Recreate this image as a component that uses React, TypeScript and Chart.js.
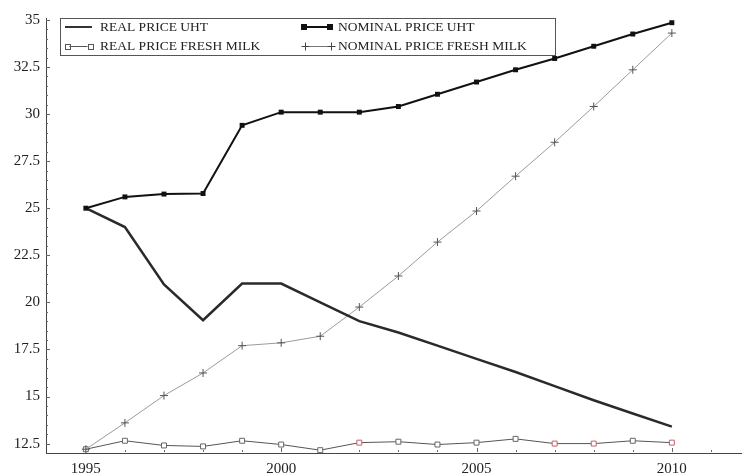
import { useEffect, useRef } from "react";
import { Chart, registerables } from "chart.js";

Chart.register(...registerables);

// Milk prices, 1995-2010
const years = [1995, 1996, 1997, 1998, 1999, 2000, 2001, 2002, 2003, 2004, 2005, 2006, 2007, 2008, 2009, 2010];
const realPriceUht = [25.0, 24.0, 20.95, 19.05, 21.0, 21.0, 20.0, 19.0, 18.4, 17.7, 17.0, 16.3, 15.55, 14.8, 14.1, 13.4];
const nominalPriceUht = [25.0, 25.6, 25.75, 25.78, 29.4, 30.1, 30.1, 30.1, 30.4, 31.05, 31.7, 32.35, 32.95, 33.6, 34.25, 34.85];
const realPriceFreshMilk = [12.2, 12.65, 12.4, 12.35, 12.65, 12.45, 12.15, 12.55, 12.6, 12.45, 12.55, 12.75, 12.5, 12.5, 12.65, 12.55];
const nominalPriceFreshMilk = [12.2, 13.6, 15.05, 16.25, 17.7, 17.85, 18.2, 19.75, 21.4, 23.2, 24.85, 26.7, 28.5, 30.4, 32.35, 34.3];

const seriesNames = ["REAL PRICE UHT", "NOMINAL PRICE UHT", "REAL PRICE FRESH MILK", "NOMINAL PRICE FRESH MILK"];

const yTickValues = [12.5, 15, 17.5, 20, 22.5, 25, 27.5, 30, 32.5, 35];
const yTickLabels = ["12.5", "15", "17.5", "20", "22.5", "25", "27.5", "30", "32.5", "35"];
const xTickValues = [1995, 2000, 2005, 2010];
const xTickLabels = ["1995", "2000", "2005", "2010"];

const FONT = "'Liberation Serif', 'Times New Roman', serif";
const TEXT = "#222";
const AXIS = "#444";

// years whose fresh-milk markers carry a reddish tint
const tintedYears = new Set([2002, 2007, 2008, 2010]);

const toPoints = (vals: number[]) => years.map((x, i) => ({ x, y: vals[i] }));

// small tick marks drawn inward from the axes
const insideTicks = {
  id: "insideTicks",
  beforeDatasetsDraw(chart: any) {
    const { ctx, chartArea, scales } = chart;
    const xs = scales.x;
    const ys = scales.y;
    ctx.save();
    ctx.strokeStyle = "#666";
    ctx.lineWidth = 1;
    for (let k = 0; k <= 45; k++) {
      const v = 12.5 + k * 0.5;
      const py = Math.round(ys.getPixelForValue(v)) + 0.5;
      const major = yTickValues.some((t) => Math.abs(t - v) < 1e-6);
      const len = major ? 4 : 2;
      ctx.beginPath();
      ctx.moveTo(chartArea.left, py);
      ctx.lineTo(chartArea.left + len, py);
      ctx.stroke();
    }
    for (let yr = 1995; yr <= 2011; yr++) {
      const px = Math.round(xs.getPixelForValue(yr)) + 0.5;
      const major = xTickValues.includes(yr);
      const len = major ? 4 : 2;
      ctx.beginPath();
      ctx.moveTo(px, chartArea.bottom - 1);
      ctx.lineTo(px, chartArea.bottom - 1 - len);
      ctx.stroke();
    }
    ctx.restore();
  },
};

function drawSquare(ctx: CanvasRenderingContext2D, x: number, y: number, s: number, filled: boolean, color: string) {
  if (filled) {
    ctx.fillStyle = color;
    ctx.fillRect(x - s / 2, y - s / 2, s, s);
  } else {
    ctx.fillStyle = "#fff";
    ctx.fillRect(x - s / 2, y - s / 2, s, s);
    ctx.strokeStyle = color;
    ctx.lineWidth = 1;
    ctx.strokeRect(Math.round(x - s / 2) + 0.5, Math.round(y - s / 2) + 0.5, s, s);
  }
}

function drawPlus(ctx: CanvasRenderingContext2D, x: number, y: number, r: number, color: string) {
  ctx.strokeStyle = color;
  ctx.lineWidth = 1;
  ctx.beginPath();
  ctx.moveTo(x - r, y);
  ctx.lineTo(x + r, y);
  ctx.moveTo(x, y - r);
  ctx.lineTo(x, y + r);
  ctx.stroke();
}

// boxed two-column legend inside the plot
const boxLegend = {
  id: "boxLegend",
  afterDraw(chart: any) {
    const ctx: CanvasRenderingContext2D = chart.ctx;
    ctx.save();
    ctx.strokeStyle = "#555";
    ctx.lineWidth = 1;
    ctx.fillStyle = "#fff";
    ctx.fillRect(60.5, 18.5, 495, 37);
    ctx.strokeRect(60.5, 18.5, 495, 37);

    const rowY = [27, 46];
    ctx.font = `13.5px ${FONT}`;
    ctx.fillStyle = TEXT;
    ctx.textBaseline = "middle";
    ctx.textAlign = "left";

    // REAL PRICE UHT
    ctx.strokeStyle = "#333";
    ctx.lineWidth = 2;
    ctx.beginPath();
    ctx.moveTo(65, rowY[0]);
    ctx.lineTo(92, rowY[0]);
    ctx.stroke();
    ctx.fillStyle = TEXT;
    ctx.fillText(seriesNames[0], 100, rowY[0]);

    // REAL PRICE FRESH MILK
    ctx.strokeStyle = "#555";
    ctx.lineWidth = 1;
    ctx.beginPath();
    ctx.moveTo(67, rowY[1] + 0.5);
    ctx.lineTo(90, rowY[1] + 0.5);
    ctx.stroke();
    drawSquare(ctx, 67, rowY[1], 5, false, "#555");
    drawSquare(ctx, 90, rowY[1], 5, false, "#555");
    ctx.fillStyle = TEXT;
    ctx.fillText(seriesNames[2], 100, rowY[1]);

    // NOMINAL PRICE UHT
    ctx.strokeStyle = "#111";
    ctx.lineWidth = 2;
    ctx.beginPath();
    ctx.moveTo(304, rowY[0]);
    ctx.lineTo(330, rowY[0]);
    ctx.stroke();
    drawSquare(ctx, 304, rowY[0], 6, true, "#111");
    drawSquare(ctx, 330, rowY[0], 6, true, "#111");
    ctx.fillStyle = TEXT;
    ctx.fillText(seriesNames[1], 338, rowY[0]);

    // NOMINAL PRICE FRESH MILK
    ctx.strokeStyle = "#777";
    ctx.lineWidth = 1;
    ctx.beginPath();
    ctx.moveTo(305, rowY[1] + 0.5);
    ctx.lineTo(331, rowY[1] + 0.5);
    ctx.stroke();
    drawPlus(ctx, 305.5, rowY[1] + 0.5, 4, "#444");
    drawPlus(ctx, 331.5, rowY[1] + 0.5, 4, "#444");
    ctx.fillStyle = TEXT;
    ctx.fillText(seriesNames[3], 338, rowY[1]);

    ctx.restore();
  },
};

export default function App() {
  const canvasRef = useRef<HTMLCanvasElement | null>(null);

  useEffect(() => {
    const canvas = canvasRef.current;
    if (!canvas) return;

    const chart = new Chart(canvas, {
      type: "line",
      data: {
        datasets: [
          {
            label: seriesNames[1],
            data: toPoints(nominalPriceUht),
            borderColor: "#111",
            borderWidth: 2,
            pointStyle: "rect",
            pointRadius: 3.5,
            pointBackgroundColor: "#111",
            pointBorderColor: "#111",
            pointBorderWidth: 0,
            tension: 0,
            order: 1,
          },
          {
            label: seriesNames[0],
            data: toPoints(realPriceUht),
            borderColor: "#2a2a2a",
            borderWidth: 2.5,
            pointRadius: 0,
            tension: 0,
            order: 2,
          },
          {
            label: seriesNames[3],
            data: toPoints(nominalPriceFreshMilk),
            borderColor: "#9a9a9a",
            borderWidth: 1,
            pointStyle: "cross",
            pointRadius: 4,
            pointBorderColor: "#555",
            pointBorderWidth: 1,
            tension: 0,
            order: 3,
          },
          {
            label: seriesNames[2],
            data: toPoints(realPriceFreshMilk),
            borderColor: "#555",
            borderWidth: 1,
            pointStyle: "rect",
            pointRadius: 3.5,
            pointBackgroundColor: "#fff",
            pointBorderColor: (c: any) => (tintedYears.has(years[c.dataIndex]) ? "#c0606e" : "#666"),
            pointBorderWidth: 1,
            tension: 0,
            order: 4,
          },
        ],
      },
      options: {
        responsive: false,
        animation: false,
        devicePixelRatio: 1,
        clip: false as any,
        layout: { padding: { top: 18, right: 0, left: 0, bottom: 0 } },
        plugins: {
          legend: { display: false },
          tooltip: { enabled: false },
        },
        scales: {
          x: {
            type: "linear",
            min: 1993.98,
            max: 2011.77,
            grid: { display: false, drawTicks: false },
            border: { display: true, color: AXIS, width: 1 },
            afterBuildTicks: (scale: any) => {
              scale.ticks = xTickValues.map((value) => ({ value }));
            },
            afterFit: (scale: any) => {
              scale.height = 20;
            },
            ticks: {
              autoSkip: false,
              maxRotation: 0,
              padding: 7,
              color: TEXT,
              font: { family: FONT, size: 15 },
              callback: (_v: any, i: number) => xTickLabels[i],
            },
          },
          y: {
            type: "linear",
            min: 12.0,
            max: 35.1,
            grid: { display: false, drawTicks: false },
            border: { display: true, color: AXIS, width: 1 },
            afterBuildTicks: (scale: any) => {
              scale.ticks = yTickValues.map((value) => ({ value }));
            },
            afterFit: (scale: any) => {
              scale.width = 46;
            },
            ticks: {
              autoSkip: false,
              padding: 6,
              color: TEXT,
              font: { family: FONT, size: 15 },
              callback: (_v: any, i: number) => yTickLabels[i],
            },
          },
        },
      },
      plugins: [insideTicks, boxLegend],
    });

    return () => chart.destroy();
  }, []);

  return (
    <div style={{ position: "absolute", left: 0, top: 0, width: 746, height: 473, background: "#fff" }}>
      <canvas ref={canvasRef} width={746} height={473} />
    </div>
  );
}
